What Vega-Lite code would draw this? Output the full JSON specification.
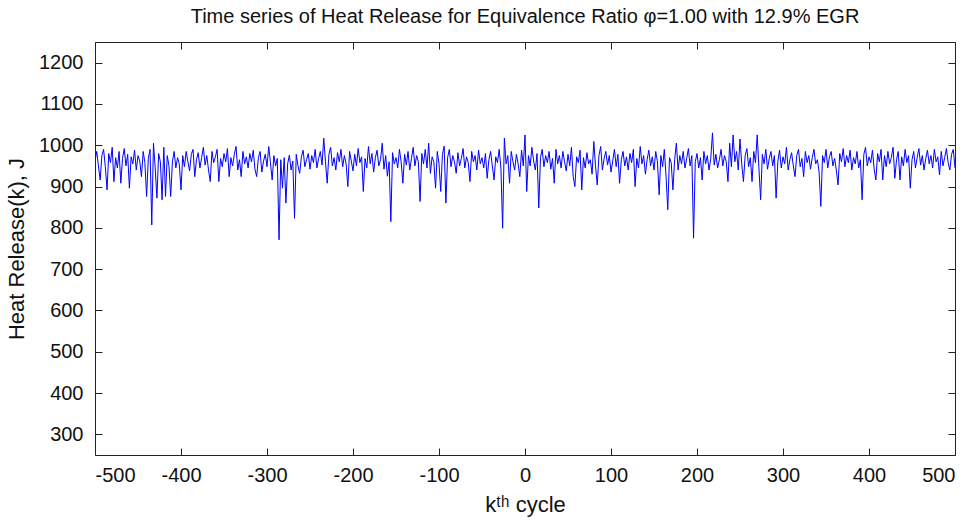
{
"$schema": "https://vega.github.io/schema/vega-lite/v6.json",
"width": 860, "height": 413,
"autosize": {"type": "none"},
"padding": {"left": 95, "top": 42, "right": 20, "bottom": 65},
"background": "white",
"title": {"text": "Time series of Heat Release for Equivalence Ratio φ=1.00 with 12.9% EGR", "fontSize": 20, "font": "Liberation Sans", "fontWeight": "normal", "offset": 15, "anchor": "middle", "color": "#111"},
"config": {
  "view": {"stroke": "#222", "strokeWidth": 1},
  "axis": {"domain": false, "grid": false, "labelFont": "Liberation Sans", "labelFontSize": 20, "titleFont": "Liberation Sans", "titleFontSize": 22, "titleFontWeight": "normal", "labelColor": "#111", "titleColor": "#111", "tickColor": "#222", "tickSize": -7, "labelExpr": "datum.value + ''"}
},
"data": {"values": [
{"k":-500,"h":962},{"k":-498,"h":985},{"k":-496,"h":950},{"k":-494,"h":916},{"k":-492,"h":975},{"k":-490,"h":990},{"k":-488,"h":948},{"k":-486,"h":892},{"k":-484,"h":980},{"k":-482,"h":958},
{"k":-480,"h":995},{"k":-478,"h":912},{"k":-476,"h":970},{"k":-474,"h":945},{"k":-472,"h":985},{"k":-470,"h":908},{"k":-468,"h":968},{"k":-466,"h":992},{"k":-464,"h":950},{"k":-462,"h":978},
{"k":-460,"h":896},{"k":-458,"h":972},{"k":-456,"h":955},{"k":-454,"h":988},{"k":-452,"h":940},{"k":-450,"h":975},{"k":-448,"h":962},{"k":-446,"h":924},{"k":-444,"h":985},{"k":-442,"h":958},
{"k":-440,"h":876},{"k":-438,"h":968},{"k":-436,"h":990},{"k":-434,"h":807},{"k":-432,"h":1005},{"k":-430,"h":945},{"k":-428,"h":872},{"k":-426,"h":980},{"k":-424,"h":960},{"k":-422,"h":868},
{"k":-420,"h":995},{"k":-418,"h":876},{"k":-416,"h":975},{"k":-414,"h":950},{"k":-412,"h":876},{"k":-410,"h":960},{"k":-408,"h":985},{"k":-406,"h":945},{"k":-404,"h":970},{"k":-402,"h":955},
{"k":-400,"h":892},{"k":-398,"h":975},{"k":-396,"h":948},{"k":-394,"h":985},{"k":-392,"h":960},{"k":-390,"h":938},{"k":-388,"h":978},{"k":-386,"h":990},{"k":-384,"h":924},{"k":-382,"h":965},
{"k":-380,"h":982},{"k":-378,"h":945},{"k":-376,"h":970},{"k":-374,"h":995},{"k":-372,"h":952},{"k":-370,"h":975},{"k":-368,"h":940},{"k":-366,"h":912},{"k":-364,"h":985},{"k":-362,"h":958},
{"k":-360,"h":972},{"k":-358,"h":990},{"k":-356,"h":912},{"k":-354,"h":968},{"k":-352,"h":948},{"k":-350,"h":980},{"k":-348,"h":960},{"k":-346,"h":992},{"k":-344,"h":924},{"k":-342,"h":970},
{"k":-340,"h":950},{"k":-338,"h":978},{"k":-336,"h":997},{"k":-334,"h":940},{"k":-332,"h":965},{"k":-330,"h":924},{"k":-328,"h":985},{"k":-326,"h":955},{"k":-324,"h":972},{"k":-322,"h":945},
{"k":-320,"h":980},{"k":-318,"h":960},{"k":-316,"h":988},{"k":-314,"h":942},{"k":-312,"h":924},{"k":-310,"h":970},{"k":-308,"h":985},{"k":-306,"h":935},{"k":-304,"h":962},{"k":-302,"h":978},
{"k":-300,"h":948},{"k":-298,"h":997},{"k":-296,"h":958},{"k":-294,"h":916},{"k":-292,"h":975},{"k":-290,"h":950},{"k":-288,"h":968},{"k":-286,"h":771},{"k":-284,"h":965},{"k":-282,"h":896},
{"k":-280,"h":970},{"k":-278,"h":860},{"k":-276,"h":955},{"k":-274,"h":976},{"k":-272,"h":940},{"k":-270,"h":962},{"k":-268,"h":823},{"k":-266,"h":978},{"k":-264,"h":950},{"k":-262,"h":932},
{"k":-260,"h":972},{"k":-258,"h":988},{"k":-256,"h":948},{"k":-254,"h":965},{"k":-252,"h":980},{"k":-250,"h":942},{"k":-248,"h":975},{"k":-246,"h":958},{"k":-244,"h":990},{"k":-242,"h":945},
{"k":-240,"h":968},{"k":-238,"h":985},{"k":-236,"h":952},{"k":-234,"h":1017},{"k":-232,"h":960},{"k":-230,"h":908},{"k":-228,"h":978},{"k":-226,"h":995},{"k":-224,"h":950},{"k":-222,"h":970},
{"k":-220,"h":940},{"k":-218,"h":982},{"k":-216,"h":960},{"k":-214,"h":990},{"k":-212,"h":948},{"k":-210,"h":975},{"k":-208,"h":955},{"k":-206,"h":900},{"k":-204,"h":985},{"k":-202,"h":962},
{"k":-200,"h":938},{"k":-198,"h":978},{"k":-196,"h":950},{"k":-194,"h":992},{"k":-192,"h":958},{"k":-190,"h":972},{"k":-188,"h":888},{"k":-186,"h":968},{"k":-184,"h":945},{"k":-182,"h":997},
{"k":-180,"h":955},{"k":-178,"h":980},{"k":-176,"h":935},{"k":-174,"h":970},{"k":-172,"h":988},{"k":-170,"h":950},{"k":-168,"h":965},{"k":-166,"h":1005},{"k":-164,"h":942},{"k":-162,"h":975},
{"k":-160,"h":925},{"k":-158,"h":960},{"k":-156,"h":815},{"k":-154,"h":982},{"k":-152,"h":955},{"k":-150,"h":970},{"k":-148,"h":945},{"k":-146,"h":990},{"k":-144,"h":960},{"k":-142,"h":908},
{"k":-140,"h":978},{"k":-138,"h":952},{"k":-136,"h":985},{"k":-134,"h":940},{"k":-132,"h":968},{"k":-130,"h":995},{"k":-128,"h":950},{"k":-126,"h":975},{"k":-124,"h":960},{"k":-122,"h":864},
{"k":-120,"h":980},{"k":-118,"h":955},{"k":-116,"h":990},{"k":-114,"h":945},{"k":-112,"h":1005},{"k":-110,"h":932},{"k":-108,"h":972},{"k":-106,"h":960},{"k":-104,"h":896},{"k":-102,"h":985},
{"k":-100,"h":955},{"k":-98,"h":888},{"k":-96,"h":978},{"k":-94,"h":998},{"k":-92,"h":860},{"k":-90,"h":970},{"k":-88,"h":990},{"k":-86,"h":948},{"k":-84,"h":975},{"k":-82,"h":960},
{"k":-80,"h":932},{"k":-78,"h":982},{"k":-76,"h":950},{"k":-74,"h":968},{"k":-72,"h":992},{"k":-70,"h":945},{"k":-68,"h":972},{"k":-66,"h":958},{"k":-64,"h":912},{"k":-62,"h":985},
{"k":-60,"h":960},{"k":-58,"h":975},{"k":-56,"h":940},{"k":-54,"h":988},{"k":-52,"h":955},{"k":-50,"h":970},{"k":-48,"h":945},{"k":-46,"h":980},{"k":-44,"h":920},{"k":-42,"h":965},
{"k":-40,"h":985},{"k":-38,"h":950},{"k":-36,"h":916},{"k":-34,"h":972},{"k":-32,"h":958},{"k":-30,"h":990},{"k":-28,"h":945},{"k":-26,"h":799},{"k":-24,"h":1017},{"k":-22,"h":955},
{"k":-20,"h":975},{"k":-18,"h":908},{"k":-16,"h":985},{"k":-14,"h":960},{"k":-12,"h":940},{"k":-10,"h":978},{"k":-8,"h":955},{"k":-6,"h":924},{"k":-4,"h":988},{"k":-2,"h":950},
{"k":0,"h":1025},{"k":2,"h":888},{"k":4,"h":975},{"k":6,"h":950},{"k":8,"h":995},{"k":10,"h":962},{"k":12,"h":940},{"k":14,"h":980},{"k":16,"h":848},{"k":18,"h":970},
{"k":20,"h":990},{"k":22,"h":948},{"k":24,"h":975},{"k":26,"h":958},{"k":28,"h":985},{"k":30,"h":942},{"k":32,"h":968},{"k":34,"h":908},{"k":36,"h":990},{"k":38,"h":955},
{"k":40,"h":975},{"k":42,"h":945},{"k":44,"h":985},{"k":46,"h":960},{"k":48,"h":938},{"k":50,"h":978},{"k":52,"h":950},{"k":54,"h":995},{"k":56,"h":925},{"k":58,"h":900},
{"k":60,"h":972},{"k":62,"h":958},{"k":64,"h":988},{"k":66,"h":892},{"k":68,"h":970},{"k":70,"h":945},{"k":72,"h":982},{"k":74,"h":955},{"k":76,"h":965},{"k":78,"h":930},
{"k":80,"h":1009},{"k":82,"h":950},{"k":84,"h":904},{"k":86,"h":975},{"k":88,"h":997},{"k":90,"h":940},{"k":92,"h":968},{"k":94,"h":985},{"k":96,"h":952},{"k":98,"h":975},
{"k":100,"h":935},{"k":102,"h":962},{"k":104,"h":990},{"k":106,"h":948},{"k":108,"h":978},{"k":110,"h":908},{"k":112,"h":965},{"k":114,"h":985},{"k":116,"h":950},{"k":118,"h":972},
{"k":120,"h":940},{"k":122,"h":980},{"k":124,"h":958},{"k":126,"h":990},{"k":128,"h":900},{"k":130,"h":968},{"k":132,"h":945},{"k":134,"h":997},{"k":136,"h":955},{"k":138,"h":975},
{"k":140,"h":930},{"k":142,"h":965},{"k":144,"h":988},{"k":146,"h":950},{"k":148,"h":972},{"k":150,"h":940},{"k":152,"h":985},{"k":154,"h":960},{"k":156,"h":880},{"k":158,"h":975},
{"k":160,"h":948},{"k":162,"h":990},{"k":164,"h":925},{"k":166,"h":844},{"k":168,"h":970},{"k":170,"h":958},{"k":172,"h":892},{"k":174,"h":965},{"k":176,"h":1005},{"k":178,"h":940},
{"k":180,"h":975},{"k":182,"h":955},{"k":184,"h":985},{"k":186,"h":945},{"k":188,"h":968},{"k":190,"h":992},{"k":192,"h":950},{"k":194,"h":975},{"k":196,"h":775},{"k":198,"h":960},
{"k":200,"h":980},{"k":202,"h":945},{"k":204,"h":970},{"k":206,"h":916},{"k":208,"h":985},{"k":210,"h":955},{"k":212,"h":975},{"k":214,"h":940},{"k":216,"h":968},{"k":218,"h":1030},
{"k":220,"h":952},{"k":222,"h":978},{"k":224,"h":945},{"k":226,"h":965},{"k":228,"h":990},{"k":230,"h":950},{"k":232,"h":975},{"k":234,"h":960},{"k":236,"h":912},{"k":238,"h":1005},
{"k":240,"h":948},{"k":242,"h":1025},{"k":244,"h":960},{"k":246,"h":985},{"k":248,"h":940},{"k":250,"h":1015},{"k":252,"h":955},{"k":254,"h":912},{"k":256,"h":975},{"k":258,"h":992},
{"k":260,"h":948},{"k":262,"h":970},{"k":264,"h":912},{"k":266,"h":985},{"k":268,"h":958},{"k":270,"h":1025},{"k":272,"h":945},{"k":274,"h":868},{"k":276,"h":978},{"k":278,"h":955},
{"k":280,"h":990},{"k":282,"h":942},{"k":284,"h":968},{"k":286,"h":985},{"k":288,"h":950},{"k":290,"h":975},{"k":292,"h":872},{"k":294,"h":960},{"k":296,"h":988},{"k":298,"h":945},
{"k":300,"h":972},{"k":302,"h":955},{"k":304,"h":995},{"k":306,"h":940},{"k":308,"h":965},{"k":310,"h":982},{"k":312,"h":950},{"k":314,"h":924},{"k":316,"h":975},{"k":318,"h":990},
{"k":320,"h":948},{"k":322,"h":968},{"k":324,"h":924},{"k":326,"h":985},{"k":328,"h":958},{"k":330,"h":975},{"k":332,"h":942},{"k":334,"h":970},{"k":336,"h":990},{"k":338,"h":955},
{"k":340,"h":965},{"k":342,"h":935},{"k":344,"h":852},{"k":346,"h":975},{"k":348,"h":958},{"k":350,"h":990},{"k":352,"h":945},{"k":354,"h":972},{"k":356,"h":985},{"k":358,"h":950},
{"k":360,"h":968},{"k":362,"h":940},{"k":364,"h":904},{"k":366,"h":980},{"k":368,"h":960},{"k":370,"h":992},{"k":372,"h":948},{"k":374,"h":975},{"k":376,"h":958},{"k":378,"h":988},
{"k":380,"h":940},{"k":382,"h":970},{"k":384,"h":955},{"k":386,"h":985},{"k":388,"h":945},{"k":390,"h":965},{"k":392,"h":868},{"k":394,"h":978},{"k":396,"h":995},{"k":398,"h":950},
{"k":400,"h":972},{"k":402,"h":958},{"k":404,"h":988},{"k":406,"h":942},{"k":408,"h":916},{"k":410,"h":980},{"k":412,"h":960},{"k":414,"h":990},{"k":416,"h":916},{"k":418,"h":975},
{"k":420,"h":948},{"k":422,"h":985},{"k":424,"h":955},{"k":426,"h":970},{"k":428,"h":995},{"k":430,"h":920},{"k":432,"h":965},{"k":434,"h":985},{"k":436,"h":916},{"k":438,"h":972},
{"k":440,"h":950},{"k":442,"h":990},{"k":444,"h":958},{"k":446,"h":975},{"k":448,"h":896},{"k":450,"h":965},{"k":452,"h":985},{"k":454,"h":945},{"k":456,"h":970},{"k":458,"h":992},
{"k":460,"h":952},{"k":462,"h":975},{"k":464,"h":940},{"k":466,"h":968},{"k":468,"h":988},{"k":470,"h":955},{"k":472,"h":975},{"k":474,"h":945},{"k":476,"h":990},{"k":478,"h":960},
{"k":480,"h":972},{"k":482,"h":928},{"k":484,"h":985},{"k":486,"h":950},{"k":488,"h":970},{"k":490,"h":992},{"k":492,"h":958},{"k":494,"h":940},{"k":496,"h":978},{"k":498,"h":990},
{"k":500,"h":945}
]},
"layer": [
  {"mark": {"type": "line", "color": "#0000ff", "strokeWidth": 1, "clip": true},
   "encoding": {
     "x": {"field": "k", "type": "quantitative", "scale": {"domain": [-500, 500], "nice": false, "zero": false},
           "axis": {"orient": "bottom", "values": [-500,-400,-300,-200,-100,0,100,200,300,400,500], "labelPadding": 17, "title": "kᵗʰ cycle", "titlePadding": 9}},
     "y": {"field": "h", "type": "quantitative", "scale": {"domain": [250, 1250], "nice": false, "zero": false},
           "axis": {"orient": "left", "values": [300,400,500,600,700,800,900,1000,1100,1200], "labelPadding": 19, "title": "Heat Release(k), J", "titlePadding": 10}}
   }},
  {"mark": {"type": "line", "opacity": 0},
   "encoding": {
     "x": {"field": "k", "type": "quantitative", "scale": {"domain": [-500, 500], "nice": false, "zero": false},
           "axis": {"orient": "top", "values": [-500,-400,-300,-200,-100,0,100,200,300,400,500], "labels": false, "title": null}},
     "y": {"field": "h", "type": "quantitative", "scale": {"domain": [250, 1250], "nice": false, "zero": false},
           "axis": {"orient": "right", "values": [300,400,500,600,700,800,900,1000,1100,1200], "labels": false, "title": null}}
   }}
],
"resolve": {"axis": {"x": "independent", "y": "independent"}}
}
